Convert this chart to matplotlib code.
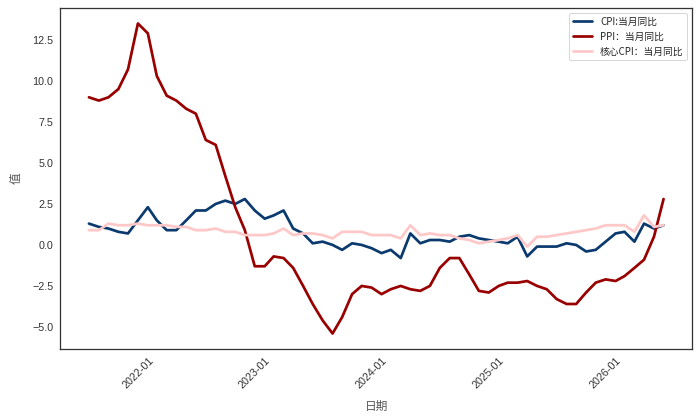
import matplotlib
matplotlib.use("Agg")
import matplotlib.pyplot as plt
import matplotlib.dates as mdates
import seaborn as sns
import pandas as pd

# monthly series, 60 months
dates = pd.date_range("2021-08-01", periods=60, freq="MS")

cpi = [1.3, 1.1, 1.0, 0.8, 0.7, 1.5, 2.3, 1.5,
       0.9, 0.9, 1.5, 2.1, 2.1, 2.5, 2.7, 2.5, 2.8, 2.1, 1.6, 1.8,
       2.1, 1.0, 0.7, 0.1, 0.2, 0.0, -0.3, 0.1, 0.0, -0.2, -0.5, -0.3,
       -0.8, 0.7, 0.1, 0.3, 0.3, 0.2, 0.5, 0.6, 0.4, 0.3, 0.2, 0.1,
       0.5, -0.7, -0.1, -0.1, -0.1, 0.1, 0.0, -0.4, -0.3, 0.2, 0.7, 0.8,
       0.2, 1.3, 1.0, 1.2]

ppi = [9.0, 8.8, 9.0, 9.5, 10.7, 13.5, 12.9, 10.3,
       9.1, 8.8, 8.3, 8.0, 6.4, 6.1, 4.2, 2.3, 0.9, -1.3, -1.3, -0.7,
       -0.8, -1.4, -2.5, -3.6, -4.6, -5.4, -4.4, -3.0, -2.5, -2.6, -3.0, -2.7,
       -2.5, -2.7, -2.8, -2.5, -1.4, -0.8, -0.8, -1.8, -2.8, -2.9, -2.5, -2.3,
       -2.3, -2.2, -2.5, -2.7, -3.3, -3.6, -3.6, -2.9, -2.3, -2.1, -2.2, -1.9,
       -1.4, -0.9, 0.5, 2.8]

core_cpi = [0.9, 0.9, 1.3, 1.2, 1.2, 1.3, 1.2, 1.2,
            1.2, 1.1, 1.1, 0.9, 0.9, 1.0, 0.8, 0.8, 0.6, 0.6, 0.6, 0.7,
            1.0, 0.6, 0.7, 0.7, 0.6, 0.4, 0.8, 0.8, 0.8, 0.6, 0.6, 0.6,
            0.4, 1.2, 0.6, 0.7, 0.6, 0.6, 0.4, 0.3, 0.1, 0.2, 0.3, 0.4,
            0.6, -0.1, 0.5, 0.5, 0.6, 0.7, 0.8, 0.9, 1.0, 1.2, 1.2, 1.2,
            0.8, 1.8, 1.1, 1.2]

labels = ["CPI:当月同比", "PPI：当月同比", "核心CPI：当月同比"]

sns.set_style("white")
plt.rcParams['font.family'] = ['Liberation Sans', 'Noto Sans CJK SC']

fig, ax = plt.subplots(figsize=(10, 6), dpi=70)
ax.plot(dates, cpi, color='#0b3a6e', linewidth=2.8, label=labels[0])
ax.plot(dates, ppi, color='#990000', linewidth=2.8, label=labels[1])
ax.plot(dates, core_cpi, color='#ffc8c8', linewidth=2.8, label=labels[2])

ax.xaxis.set_major_locator(mdates.YearLocator())
ax.xaxis.set_major_formatter(mdates.DateFormatter('%Y-%m'))
plt.xticks(rotation=45)
ax.tick_params(labelsize=11, labelcolor='#333333')

for s in ax.spines.values():
    s.set_color('#333333')
    s.set_linewidth(1.3)

ax.set_xlabel("日期", color='#555555', fontsize=12, labelpad=9,
              family=['Noto Sans CJK SC'])
ax.set_ylabel("值", color='#555555', fontsize=12, labelpad=10,
              family=['Noto Sans CJK SC'])
ax.legend(loc='upper right', prop={'family': ['Noto Sans CJK SC'], 'size': 10})

fig.subplots_adjust(left=0.086, right=0.989, top=0.981, bottom=0.169)
plt.savefig("out.png", dpi=70)
